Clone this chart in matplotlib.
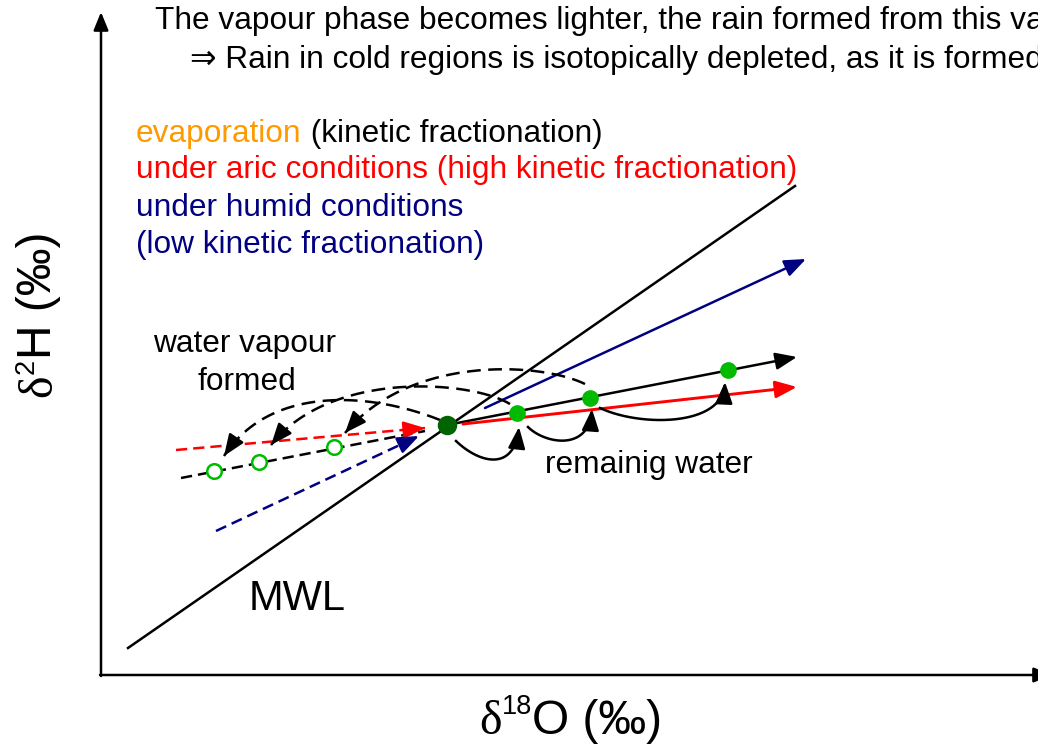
import numpy as np
import matplotlib
matplotlib.use('Agg')
import matplotlib.pyplot as plt

W, H = 1038, 744
SANS = ['Liberation Sans', 'DejaVu Sans']
SERIF = ['Liberation Serif', 'DejaVu Serif']
plt.rcParams['font.family'] = SANS

# ---------------- schematic data (pixel-space, y downward) ----------------
mwl_x = [128, 795]
mwl_y = [648, 186]

# straight trajectories: (start, tip)
red_solid = [(463, 424), (797, 387)]
black_solid = [(447, 425), (797, 357)]
blue_solid = [(485, 408), (806, 259)]
red_dash = [(176, 450), (425, 428)]
black_dash = [(181, 478), (425, 431)]
blue_dash = [(216, 531), (419, 436)]

source_x, source_y = [447], [425]
remain_x = [517, 590, 728]
remain_y = [413, 398, 370]
vapour_x = [214, 259, 334]
vapour_y = [471, 462, 447]

# cubic Bezier control points of the curved transfer arrows
vapour_curves = [
    [(440, 420), (370, 392), (270, 385), (224, 456)],
    [(510, 404), (470, 380), (330, 370), (271, 445)],
    [(585, 384), (540, 362), (410, 355), (345, 433)],
]
remain_curves = [
    [(456, 441), (480, 464), (515, 472), (519, 427)],
    [(528, 427), (545, 444), (590, 452), (592, 409)],
    [(600, 408), (640, 427), (725, 427), (725, 382)],
]

title1 = "The vapour phase becomes lighter, the rain formed from this vapour becomes lighter"
title2 = "\u21D2 Rain in cold regions is isotopically depleted, as it is formed from depleted vapour"

ORANGE = '#FF9900'
RED = '#FF0000'
NAVY = '#000080'
GREEN = '#00BB00'
DKGREEN = '#006400'

LW = 1.8

fig = plt.figure(figsize=(W / 100, H / 100), dpi=100)
ax = fig.add_axes([0, 0, 1, 1])
ax.set_xlim(0, W)
ax.set_ylim(H, 0)
ax.axis('off')


def bez(P, n=200):
    t = np.linspace(0, 1, n)[:, None]
    P = np.asarray(P, float)
    return ((1 - t) ** 3 * P[0] + 3 * (1 - t) ** 2 * t * P[1]
            + 3 * (1 - t) * t ** 2 * P[2] + t ** 3 * P[3])


def arrow(start, tip, color, lw=LW, hl=13, hw=5.2, z=3):
    ax.annotate('', xy=tip, xytext=start, annotation_clip=False,
                arrowprops=dict(arrowstyle=f'-|>,head_length={hl},head_width={hw}',
                                mutation_scale=1, color=color, lw=lw,
                                shrinkA=0, shrinkB=0), zorder=z)


def head(tip, frm, color, hl=13, hw=5.2, z=3):
    tip = np.asarray(tip, float)
    d = tip - np.asarray(frm, float)
    d /= np.hypot(*d)
    start = tip - d * hl * 100 / 72
    arrow(tuple(start), tuple(tip), color, hl=hl, hw=hw, z=z)


# axes
arrow((101, 676), (101, 12), 'black', lw=1.8, hl=11, hw=4.5)
arrow((100, 675), (1052, 675), 'black', lw=1.8, hl=11, hw=4.5)

# MWL
ax.plot(mwl_x, mwl_y, color='black', lw=LW, zorder=2)

# solid trajectories
arrow(*blue_solid, NAVY)
arrow(*black_solid, 'black')
arrow(*red_solid, RED, lw=2.1)

# dashed trajectories
for (s, e), c in [(red_dash, RED), (black_dash, 'black'), (blue_dash, NAVY)]:
    ax.plot([s[0], e[0]], [s[1], e[1]], color=c, lw=LW, ls=(0, (4.5, 2.4)), zorder=2)
head(red_dash[1], red_dash[0], RED)
head(blue_dash[1], blue_dash[0], NAVY)

# curved vapour arrows (dashed)
for P in vapour_curves:
    pts = bez(P)
    ax.plot(pts[:, 0], pts[:, 1], color='black', lw=LW, ls=(0, (5.5, 3)), zorder=3)
    head(P[3], pts[-6], 'black')

# curved remaining-water arrows (solid)
for P in remain_curves:
    pts = bez(P)
    ax.plot(pts[:-8, 0], pts[:-8, 1], color='black', lw=LW, zorder=3)
    head(P[3], pts[-6], 'black')

# points
ax.plot(vapour_x, vapour_y, 'o', ms=10.5, mfc='white', mec=GREEN, mew=1.8, zorder=5)
ax.plot(remain_x, remain_y, 'o', ms=11, color=GREEN, zorder=5)
ax.plot(source_x, source_y, 'o', ms=13, color=DKGREEN, zorder=5)

# ---------------- texts ----------------
renderer = fig.canvas.get_renderer()


def chain(x, y, pieces, rotation=0):
    for s, kw, raise_ in pieces:
        if rotation == 0:
            t = ax.text(x, y - raise_, s, ha='left', va='baseline', **kw)
        else:
            t = ax.text(x - raise_, y, s, ha='left', va='baseline',
                        rotation=90, rotation_mode='anchor', **kw)
        bb = t.get_window_extent(renderer)
        if rotation == 0:
            x += bb.width
        else:
            y -= bb.height


FS = 22.8
ax.text(155, 29, title1, fontsize=FS, ha='left', va='baseline', family=SANS)
ax.text(190, 68, title2, fontsize=FS, ha='left', va='baseline', family=SANS)

chain(136, 142, [('evaporation', dict(fontsize=FS, color=ORANGE), 0),
                 (' (kinetic fractionation)', dict(fontsize=FS, color='black'), 0)])
ax.text(136, 178, 'under aric conditions (high kinetic fractionation)', fontsize=FS,
        color=RED, va='baseline')
ax.text(136, 216, 'under humid conditions', fontsize=FS, color=NAVY, va='baseline')
ax.text(136, 253, '(low kinetic fractionation)', fontsize=FS, color=NAVY, va='baseline')

ax.text(245, 352, 'water vapour', fontsize=FS, ha='center', va='baseline')
ax.text(247, 390, 'formed', fontsize=FS, ha='center', va='baseline')
ax.text(545, 473, 'remainig water', fontsize=FS, ha='left', va='baseline')
ax.text(249, 610, 'MWL', fontsize=30, ha='left', va='baseline')

LFS = 34.5
chain(479, 734, [('\u03b4', dict(fontsize=LFS, family=SERIF), 0),
                 ('18', dict(fontsize=19.5), 20),
                 ('O (\u2030)', dict(fontsize=LFS), 0)])
chain(51, 397, [('\u03b4', dict(fontsize=LFS, family=SERIF), 0),
                ('2', dict(fontsize=19.5), 17),
                ('H (\u2030)', dict(fontsize=LFS), 0)], rotation=90)

fig.savefig('out.png', dpi=100)
